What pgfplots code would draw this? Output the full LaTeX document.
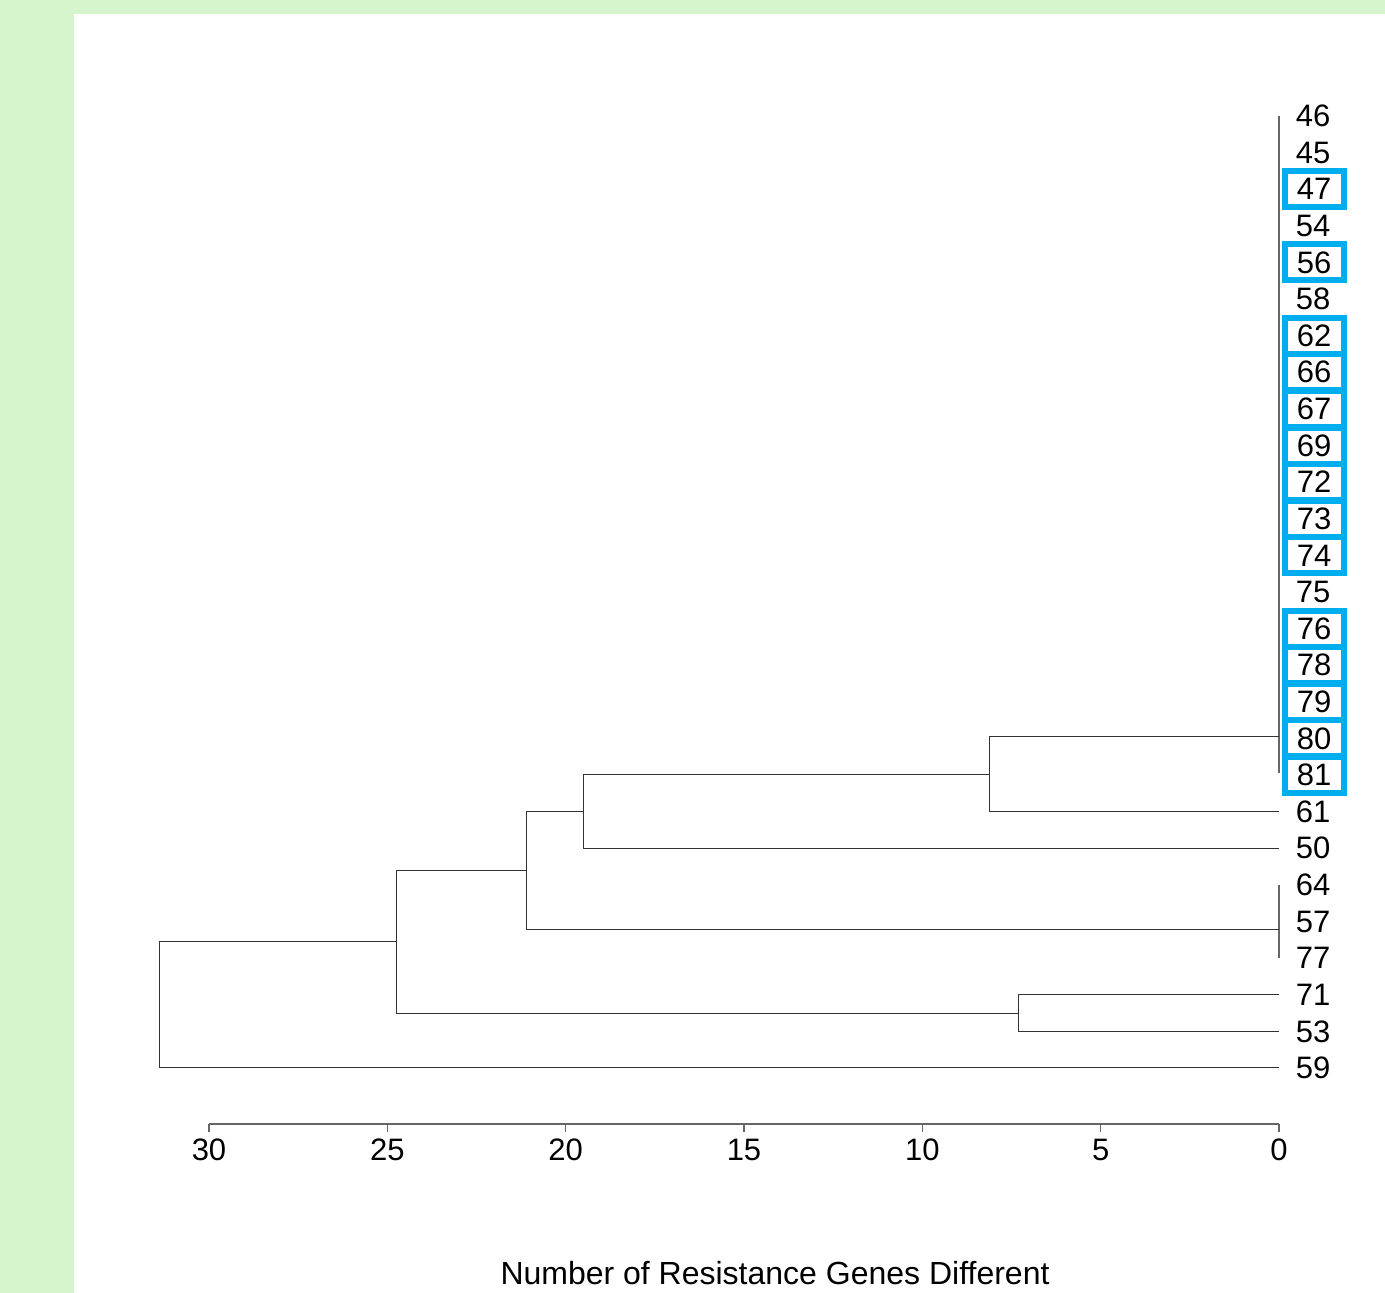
\documentclass[border=0pt]{standalone}
\usepackage{fontspec}
\setmainfont{Liberation Sans}
\usepackage{pgfplots}
\pgfplotsset{compat=1.18}
\definecolor{bggreen}{HTML}{D6F5CC}
\definecolor{boxblue}{HTML}{00AEEF}
\begin{document}
\begin{tikzpicture}
\fill[bggreen] (0,0) rectangle (692.5pt,-646.5pt);
\fill[white] (37pt,-7pt) rectangle (692.5pt,-646.5pt);
\begin{axis}[
 at={(639.5pt,-58pt)}, anchor=north east,
 scale only axis, width=535pt, height=504pt,
 xmin=0, xmax=30, ymin=-27.53, ymax=0, x dir=reverse,
 enlargelimits=false, clip=false,
 axis y line=none, axis x line*=bottom,
 axis line style={black!60, line width=0.6pt},
 xtick={0,5,...,30}, tick align=outside, major tick length=4pt,
 tick style={black!60, line width=0.6pt},
 /pgf/number format/assume math mode=true,
 xticklabel style={font=\fontsize{15.5}{18}\selectfont},
 tree/.style={black!80, line width=0.5pt, mark=none},
]
% cluster of identical leaves (height 0)
\addplot[tree, black!60, line width=0.6pt] coordinates {(0,0) (0,-17.95)};
\addplot[tree] coordinates {(0,-16.96) (8.13,-16.96) (8.13,-19) (0,-19)};
\addplot[tree] coordinates {(8.13,-17.98) (19.51,-17.98) (19.51,-20) (0,-20)};
\addplot[tree, black!60, line width=0.6pt] coordinates {(0,-21) (0,-23)};
\addplot[tree] coordinates {(19.51,-18.99) (21.11,-18.99) (21.11,-22.23) (0,-22.23)};
\addplot[tree] coordinates {(0,-24) (7.29,-24) (7.29,-25) (0,-25)};
\addplot[tree] coordinates {(21.11,-20.61) (24.73,-20.61) (24.73,-24.5) (7.29,-24.5)};
\addplot[tree] coordinates {(24.73,-22.555) (31.40,-22.555) (31.40,-26) (0,-26)};
% plain leaf labels
\addplot[draw=none, mark=none, nodes near coords, point meta=explicit symbolic,
 nodes near coords style={anchor=center, xshift=17pt, inner sep=0pt, font=\fontsize{15.5}{18}\selectfont}]
 table[meta=lab] {
x y lab
0 0 46
0 -1 45
0 -3 54
0 -5 58
0 -13 75
0 -19 61
0 -20 50
0 -21 64
0 -22 57
0 -23 77
0 -24 71
0 -25 53
0 -26 59
};
% boxed leaf labels
\addplot[draw=none, mark=none, nodes near coords, point meta=explicit symbolic,
 nodes near coords style={anchor=center, xshift=17.5pt, inner sep=0pt, draw=boxblue, line width=3pt, minimum width=29.5pt, minimum height=18pt, font=\fontsize{15.5}{18}\selectfont}]
 table[meta=lab] {
x y lab
0 -2 47
0 -4 56
0 -6 62
0 -7 66
0 -8 67
0 -9 69
0 -10 72
0 -11 73
0 -12 74
0 -14 76
0 -15 78
0 -16 79
0 -17 80
0 -18 81
};
\end{axis}
\node[font=\fontsize{16}{19}\selectfont] at (387.5pt,-636.5pt) {Number of Resistance Genes Different};
\end{tikzpicture}
\end{document}
